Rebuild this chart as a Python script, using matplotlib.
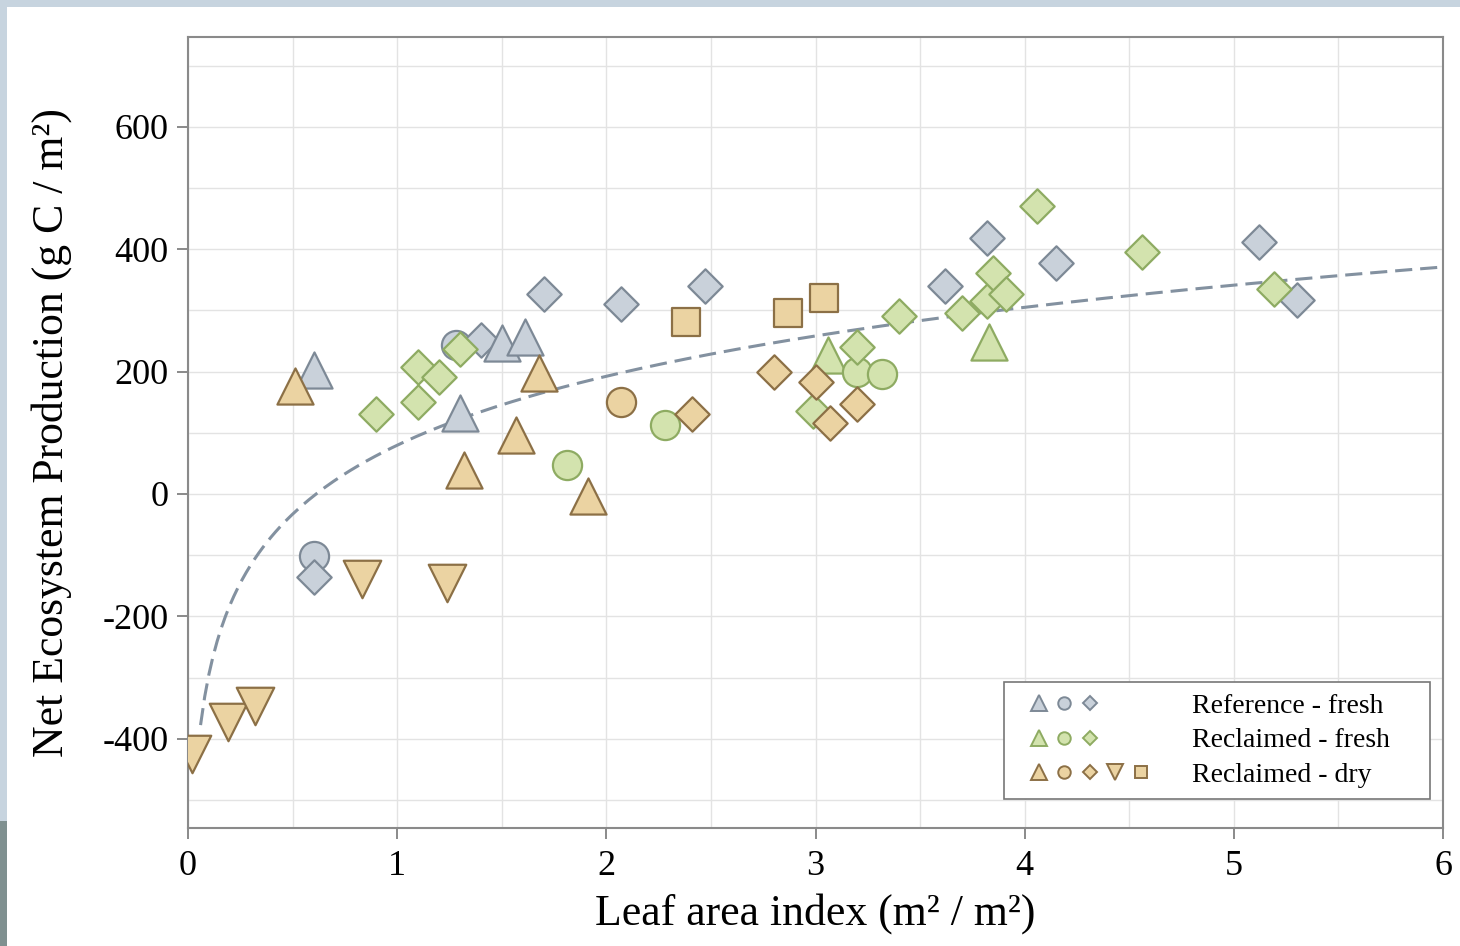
import matplotlib
matplotlib.use("Agg")
import matplotlib.pyplot as plt
import numpy as np
from matplotlib.lines import Line2D
from matplotlib.patches import Rectangle
from matplotlib.legend_handler import HandlerTuple
from matplotlib.ticker import MultipleLocator

plt.rcParams['font.family'] = ['Liberation Serif', 'DejaVu Serif']
plt.rcParams['axes.unicode_minus'] = False

# Reference - fresh
ref_tri_x = [0.60, 1.30, 1.50, 1.61]
ref_tri_y = [203, 132, 247, 257]
ref_cir_x = [0.60, 1.28]
ref_cir_y = [-102, 244]
ref_dia_x = [0.60, 1.40, 1.70, 2.07, 2.47, 3.62, 3.82, 4.15, 5.12, 5.30]
ref_dia_y = [-136, 252, 327, 311, 340, 340, 418, 378, 412, 317]

# Reclaimed - fresh
rf_tri_x = [3.06, 3.83]
rf_tri_y = [227, 248]
rf_cir_x = [1.81, 2.28, 3.20, 3.32]
rf_cir_y = [47, 113, 199, 196]
rf_dia_x = [0.90, 1.10, 1.10, 1.20, 1.30, 2.99, 3.20, 3.40, 3.70, 3.82, 3.85, 3.91, 4.06, 4.56, 5.19]
rf_dia_y = [131, 208, 150, 191, 237, 136, 240, 291, 296, 316, 361, 327, 471, 396, 335]

# Reclaimed - dry
rd_tri_x = [0.51, 1.32, 1.57, 1.68, 1.91]
rd_tri_y = [177, 39, 96, 198, -3]
rd_inv_x = [0.02, 0.19, 0.32, 0.83, 1.24]
rd_inv_y = [-425, -372, -347, -139, -146]
rd_cir_x = [2.07]
rd_cir_y = [150]
rd_dia_x = [2.41, 2.80, 3.00, 3.07, 3.20]
rd_dia_y = [131, 199, 183, 116, 147]
rd_sq_x = [2.38, 2.87, 3.04]
rd_sq_y = [281, 296, 320]

# logarithmic fit: NEP = a + b * ln(LAI)
fit_a, fit_b = 79.7, 162.6

gray_f, gray_e = '#c9d1da', '#7d8996'
green_f, green_e = '#d3e3ae', '#8eab62'
tan_f, tan_e = '#ebd3a2', '#8c7046'

fig = plt.figure(figsize=(14.6, 9.46), dpi=100)
fig.patch.set_facecolor('#c7d4df')
fig.patches.append(Rectangle((0, 0), 7 / 1460, 125 / 946, transform=fig.transFigure,
                             facecolor='#7f9090', edgecolor='none', zorder=-11))
fig.patches.append(Rectangle((7 / 1460, 0), 1, 939 / 946, transform=fig.transFigure,
                             facecolor='white', edgecolor='none', zorder=-10))
ax = fig.add_axes([188 / 1460, 1 - 828 / 946, 1255 / 1460, 791 / 946])

lx = np.linspace(0.06, 6, 300)
ax.plot(lx, fit_a + fit_b * np.log(lx), ls=(0, (5.6, 2.6)), color='#8391a0', lw=2.2, zorder=2)

sizes = {'^': 26, 'v': 27, 'o': 21, 'D': 17.5, 's': 19.5}


def pts(x, y, m, fc, ec):
    ax.scatter(x, y, marker=m, s=sizes[m] ** 2, facecolor=fc, edgecolor=ec,
               linewidth=1.6, zorder=3)


pts(ref_cir_x, ref_cir_y, 'o', gray_f, gray_e)
pts(ref_dia_x, ref_dia_y, 'D', gray_f, gray_e)
pts(ref_tri_x, ref_tri_y, '^', gray_f, gray_e)
pts(rf_tri_x, rf_tri_y, '^', green_f, green_e)
pts(rf_cir_x, rf_cir_y, 'o', green_f, green_e)
pts(rf_dia_x, rf_dia_y, 'D', green_f, green_e)
pts(rd_tri_x, rd_tri_y, '^', tan_f, tan_e)
pts(rd_inv_x, rd_inv_y, 'v', tan_f, tan_e)
pts(rd_cir_x, rd_cir_y, 'o', tan_f, tan_e)
pts(rd_dia_x, rd_dia_y, 'D', tan_f, tan_e)
pts(rd_sq_x, rd_sq_y, 's', tan_f, tan_e)

ax.set_xlim(0, 6)
ax.set_ylim(-546, 747)
ax.set_xticks(range(7))
ax.set_yticks([-400, -200, 0, 200, 400, 600])
ax.xaxis.set_minor_locator(MultipleLocator(0.5))
ax.set_yticks([-500, -300, -100, 100, 300, 500, 700], minor=True)
ax.grid(True, which='both', color='#e3e3e3', lw=1)
ax.tick_params(which='minor', length=0)
ax.tick_params(which='major', length=8, width=1.2, color='#777777', labelsize=26, pad=6)
ax.tick_params(axis='x', which='major', length=8, pad=8)
ax.set_axisbelow(True)
for s in ax.spines.values():
    s.set_color('#8a8a8a')
    s.set_linewidth(1.5)

ax.set_xlabel('Leaf area index (m² / m²)', fontsize=31.5, labelpad=7)
ax.set_ylabel('Net Ecosystem Production (g C / m²)', fontsize=31.5, labelpad=22)


def lm(m, fc, ec, ms):
    return Line2D([], [], ls='none', marker=m, markersize=ms, markerfacecolor=fc,
                  markeredgecolor=ec, markeredgewidth=1.4)


leg_sz = {'^': 11.5, 'o': 9, 'D': 7.5, 'v': 11.5, 's': 8}
h_ref = tuple(lm(m, gray_f, gray_e, leg_sz[m]) for m in ['^', 'o', 'D'])
h_rf = tuple(lm(m, green_f, green_e, leg_sz[m]) for m in ['^', 'o', 'D'])
h_rd = tuple(lm(m, tan_f, tan_e, leg_sz[m]) for m in ['^', 'o', 'D', 'v', 's'])
leg = ax.legend([h_ref, h_rf, h_rd], ['Reference - fresh', 'Reclaimed - fresh', 'Reclaimed - dry'],
                handler_map={tuple: HandlerTuple(ndivide=5, pad=0, xpad=0.4)},
                loc='lower left', bbox_to_anchor=(0.650, 0.0367, 0.340, 0.153), mode='expand',
                borderaxespad=0, fontsize=20, handlelength=5.0, handletextpad=1.37,
                labelspacing=0.33, borderpad=0.4, numpoints=1, fancybox=False, framealpha=1)
leg.get_frame().set_edgecolor('#777777')
leg.get_frame().set_linewidth(1.2)

fig.savefig('out.png', dpi=100, facecolor=fig.get_facecolor())
